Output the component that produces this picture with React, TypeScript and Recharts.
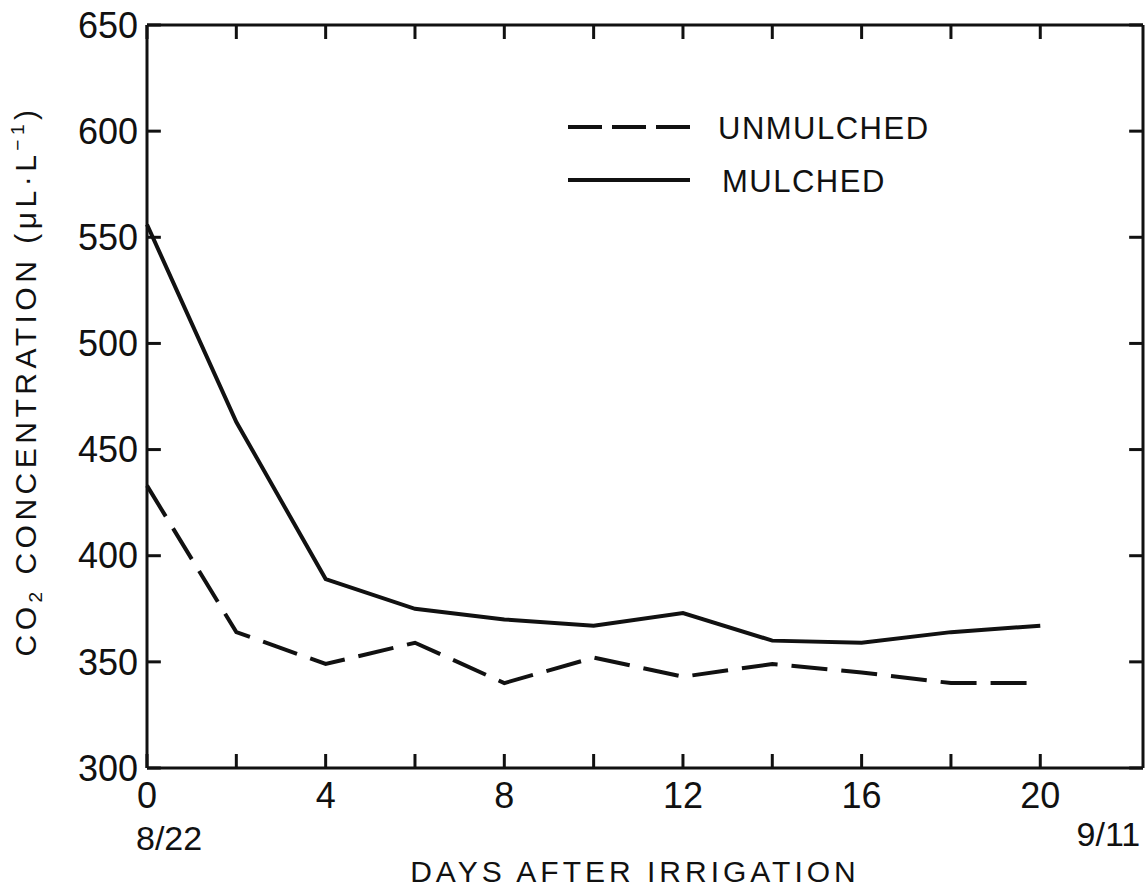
import { LineChart, Line, XAxis, YAxis, Legend, ReferenceLine } from 'recharts';

// days after irrigation (8/22 .. 9/11)
const days = [0, 2, 4, 6, 8, 10, 12, 14, 16, 18, 20];
const mulched = [556, 463, 389, 375, 370, 367, 373, 360, 359, 364, 367];
const unmulched = [433, 364, 349, 359, 340, 352, 343, 349, 345, 340, 340];

const xTicks = [0, 2, 4, 6, 8, 10, 12, 14, 16, 18, 20];
const yTicks = [300, 350, 400, 450, 500, 550, 600, 650];
const dateLabels: Record<number, string> = { 0: '8/22', 20: '9/11' };

const X_MAX = 22.3;
const Y_MIN = 300;
const Y_MAX = 650;
// inward tick length, in axis units
const X_TICK_LEN = 6.6;
const Y_TICK_LEN = 0.31;

const data = days.map((d, i) => ({ day: d, mulched: mulched[i], unmulched: unmulched[i] }));

const FONT = '"Liberation Sans", Arial, sans-serif';
const INK = '#111';

function DayTick({ x, y, payload }: any) {
  const v = payload.value;
  return (
    <g>
      {v % 4 === 0 && (
        <text x={x} y={y} dy={40} textAnchor="middle" fontFamily={FONT} fontSize={36} fill={INK}>
          {v}
        </text>
      )}
      {v === 0 && (
        <text x={x - 11} y={y} dy={82} textAnchor="start" fontFamily={FONT} fontSize={34} fill={INK}>
          {dateLabels[0]}
        </text>
      )}
      {v === 20 && (
        <text x={x + 100} y={y} dy={78} textAnchor="end" fontFamily={FONT} fontSize={34} fill={INK}>
          {dateLabels[20]}
        </text>
      )}
    </g>
  );
}

function YLabel() {
  return (
    <text
      transform="translate(36, 381) rotate(-90)"
      textAnchor="middle"
      fontFamily={FONT}
      fontSize={30}
      letterSpacing={4.5}
      fill={INK}
    >
      CO<tspan fontSize={19} dy={6}>2</tspan>
      <tspan dy={-6}>{'  CONCENTRATION  (μL·L'}</tspan>
      <tspan fontSize={19} dy={-12}>−1</tspan>
      <tspan dy={12}>)</tspan>
    </text>
  );
}

function LegendBox() {
  return (
    <svg width={420} height={90}>
      <line x1={2} y1={17} x2={124} y2={17} stroke={INK} strokeWidth={4} strokeDasharray="34 10" />
      <text x={152} y={29} fontFamily={FONT} fontSize={31} letterSpacing={1.5} fill={INK}>UNMULCHED</text>
      <line x1={2} y1={70} x2={124} y2={70} stroke={INK} strokeWidth={4} />
      <text x={156} y={82} fontFamily={FONT} fontSize={31} letterSpacing={1.5} fill={INK}>MULCHED</text>
    </svg>
  );
}

const tickSegment = (key: string, a: { x: number; y: number }, b: { x: number; y: number }) => (
  <ReferenceLine key={key} segment={[a, b]} stroke={INK} strokeWidth={3} ifOverflow="visible" />
);

export default function App() {
  return (
    <div style={{ position: 'absolute', left: 0, top: 0, background: '#fff' }}>
      <LineChart width={1146} height={896} data={data} margin={{ top: 25, right: 3, left: 0, bottom: 0 }}>
        <XAxis
          dataKey="day"
          type="number"
          domain={[0, X_MAX]}
          ticks={xTicks}
          height={128}
          stroke={INK}
          strokeWidth={3}
          tickLine={false}
          tickSize={0}
          tickMargin={0}
          tick={<DayTick />}
          interval={0}
          label={{
            value: 'DAYS AFTER IRRIGATION',
            position: 'insideBottom',
            offset: 14,
            dx: -10,
            fontFamily: FONT,
            fontSize: 30,
            letterSpacing: 4,
            fill: INK,
          }}
        />
        <YAxis
          type="number"
          domain={[Y_MIN, Y_MAX]}
          ticks={yTicks}
          width={147}
          stroke={INK}
          strokeWidth={3}
          tickLine={false}
          tickSize={0}
          tickMargin={9}
          interval={0}
          tick={{ fontFamily: FONT, fontSize: 36, fill: INK }}
          label={<YLabel />}
        />

        {/* frame: top and right edges */}
        <ReferenceLine y={Y_MAX} stroke={INK} strokeWidth={3} ifOverflow="visible" />
        <ReferenceLine x={X_MAX} stroke={INK} strokeWidth={3} ifOverflow="visible" />

        {/* inward ticks on all four sides */}
        {xTicks.map((t) => tickSegment(`xb-${t}`, { x: t, y: Y_MIN }, { x: t, y: Y_MIN + X_TICK_LEN }))}
        {xTicks.map((t) => tickSegment(`xt-${t}`, { x: t, y: Y_MAX }, { x: t, y: Y_MAX - X_TICK_LEN }))}
        {yTicks.map((t) => tickSegment(`yl-${t}`, { x: 0, y: t }, { x: Y_TICK_LEN, y: t }))}
        {yTicks.map((t) => tickSegment(`yr-${t}`, { x: X_MAX, y: t }, { x: X_MAX - Y_TICK_LEN, y: t }))}

        <Legend
          layout="horizontal"
          verticalAlign="middle"
          align="center"
          wrapperStyle={{ top: 110, left: 566, width: 420 }}
          content={() => <LegendBox />}
        />
        <Line
          dataKey="unmulched"
          stroke={INK}
          strokeWidth={4}
          strokeDasharray="36 14"
          dot={false}
          type="linear"
          isAnimationActive={false}
        />
        <Line
          dataKey="mulched"
          stroke={INK}
          strokeWidth={4}
          dot={false}
          type="linear"
          isAnimationActive={false}
        />
      </LineChart>
    </div>
  );
}
